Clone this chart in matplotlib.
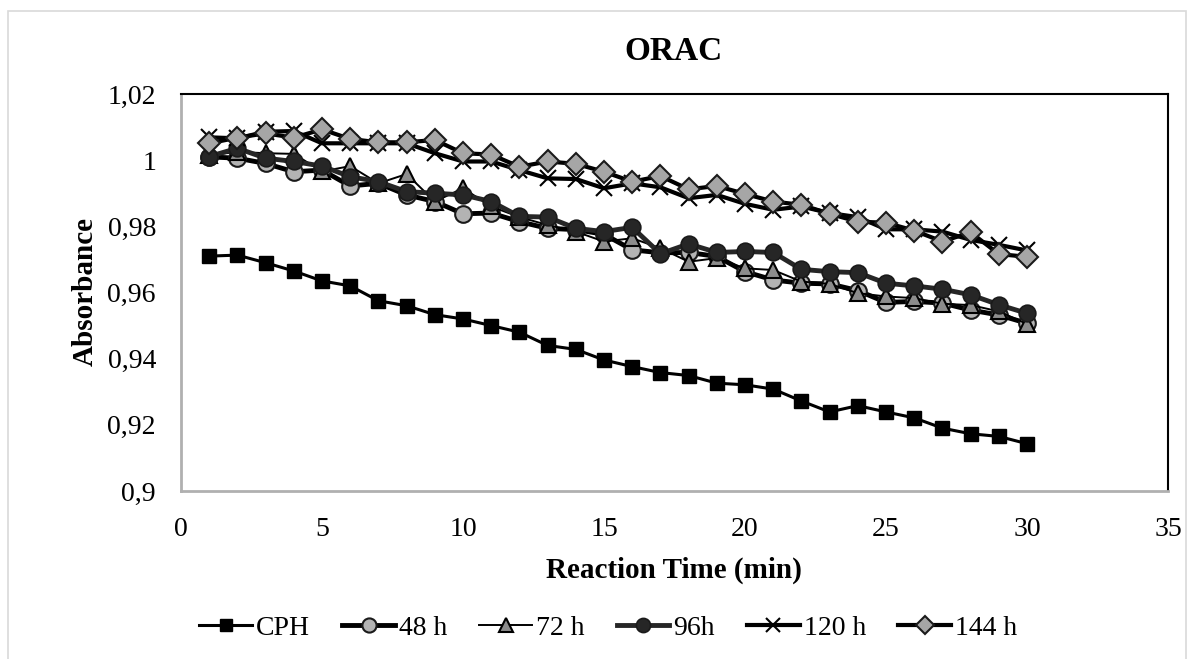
import matplotlib
matplotlib.use("Agg")
import matplotlib.pyplot as plt
from matplotlib.ticker import FuncFormatter, MultipleLocator
from matplotlib.patches import Rectangle

plt.rcParams["font.family"] = ["Liberation Serif", "DejaVu Serif"]

# reaction time (min)
time_min = list(range(1, 31))

# absorbance per sample
cph = [0.9710, 0.9713, 0.9690, 0.9665, 0.9635, 0.9620, 0.9575, 0.9560, 0.9533, 0.9520,
       0.9500, 0.9480, 0.9440, 0.9428, 0.9396, 0.9376, 0.9358, 0.9349, 0.9326, 0.9321,
       0.9308, 0.9272, 0.9239, 0.9258, 0.9239, 0.9221, 0.9190, 0.9173, 0.9165, 0.9143]
h48 = [1.0010, 1.0006, 0.9990, 0.9965, 0.9970, 0.9922, 0.9930, 0.9895, 0.9875, 0.9838,
       0.9840, 0.9814, 0.9794, 0.9790, 0.9776, 0.9729, 0.9720, 0.9721, 0.9709, 0.9663,
       0.9638, 0.9628, 0.9626, 0.9606, 0.9570, 0.9573, 0.9568, 0.9547, 0.9532, 0.9507]
h72 = [1.0015, 1.0025, 1.0021, 1.0019, 0.9966, 0.9982, 0.9930, 0.9958, 0.9875, 0.9915,
       0.9860, 0.9828, 0.9804, 0.9784, 0.9754, 0.9764, 0.9734, 0.9693, 0.9704, 0.9673,
       0.9668, 0.9633, 0.9626, 0.9598, 0.9588, 0.9583, 0.9566, 0.9562, 0.9543, 0.9505]
h96 = [1.0011, 1.0036, 1.0006, 0.9996, 0.9982, 0.9950, 0.9935, 0.9905, 0.9900, 0.9895,
       0.9875, 0.9830, 0.9828, 0.9794, 0.9784, 0.9797, 0.9717, 0.9747, 0.9721, 0.9724,
       0.9721, 0.9670, 0.9663, 0.9660, 0.9628, 0.9620, 0.9610, 0.9593, 0.9563, 0.9537]
h120 = [1.0069, 1.0066, 1.0086, 1.0088, 1.0051, 1.0051, 1.0051, 1.0051, 1.0021, 0.9996,
        0.9996, 0.9970, 0.9945, 0.9943, 0.9915, 0.9930, 0.9918, 0.9885, 0.9895, 0.9868,
        0.9850, 0.9860, 0.9840, 0.9828, 0.9791, 0.9791, 0.9784, 0.9759, 0.9744, 0.9727]
h144 = [1.0051, 1.0068, 1.0081, 1.0068, 1.0093, 1.0064, 1.0054, 1.0054, 1.0061, 1.0021,
        1.0017, 0.9980, 0.9996, 0.9989, 0.9965, 0.9935, 0.9952, 0.9912, 0.9922, 0.9898,
        0.9875, 0.9865, 0.9838, 0.9814, 0.9811, 0.9787, 0.9754, 0.9782, 0.9716, 0.9708]

labels = ["CPH", "48 h", "72 h", "96h", "120 h", "144 h"]

fig = plt.figure(figsize=(11.88, 6.59), dpi=100)
ax = fig.add_axes([181 / 1188, 1 - 491 / 659, 987 / 1188, 397 / 659])

# outer chart border
fig.patches.append(Rectangle((8 / 1188, -0.02), 1178 / 1188, 1 - 11 / 659 + 0.02,
                             transform=fig.transFigure, fill=False,
                             edgecolor="#d9d9d9", linewidth=1.2))

ax.plot(time_min, cph, color="black", lw=2.2, marker="s", ms=10.5,
        mfc="black", mec="black", label=labels[0])
ax.plot(time_min, h48, color="black", lw=3.5, marker="o", ms=12,
        mfc="#b3b3b3", mec="#1a1a1a", mew=1.5, label=labels[1])
ax.plot(time_min, h72, color="black", lw=1.4, marker="^", ms=12,
        mfc="#8c8c8c", mec="black", mew=1.5, label=labels[2])
ax.plot(time_min, h96, color="#262626", lw=3.5, marker="o", ms=12,
        mfc="#262626", mec="#1a1a1a", mew=1.2, label=labels[3])
ax.plot(time_min, h120, color="black", lw=3, marker="x", ms=12,
        mec="black", mew=1.5, label=labels[4])
ax.plot(time_min, h144, color="black", lw=3, marker="D", ms=11,
        mfc="#a6a6a6", mec="#1a1a1a", mew=1.5, label=labels[5])

ax.set_xlim(0, 35)
ax.set_ylim(0.9, 1.02)
ax.xaxis.set_major_locator(MultipleLocator(5))
ax.yaxis.set_major_locator(MultipleLocator(0.02))
ax.yaxis.set_major_formatter(FuncFormatter(lambda v, p: f"{round(v, 3):g}".replace(".", ",")))
ax.tick_params(length=0, labelsize=20)
ax.tick_params(axis="x", pad=19)
ax.tick_params(axis="y", pad=18)

for s in ["top", "right"]:
    ax.spines[s].set_color("black")
    ax.spines[s].set_linewidth(1.5)
for s in ["left", "bottom"]:
    ax.spines[s].set_color("#b0b0b0")
    ax.spines[s].set_linewidth(2)

fig.text(674 / 1188, 1 - 52 / 659, "ORAC", ha="center", va="center",
         fontsize=24, fontweight="bold")
fig.text(674 / 1188, 1 - 570 / 659, "Reaction Time (min)", ha="center", va="center",
         fontsize=21, fontweight="bold")
fig.text(85 / 1188, 1 - 292 / 659, "Absorbance", ha="center", va="center",
         rotation=90, fontsize=21, fontweight="bold")

fig.legend(loc="center", bbox_to_anchor=(0.512, 1 - 628 / 659), ncol=6,
           frameon=False, fontsize=20, handlelength=1.9, handletextpad=0.15,
           columnspacing=1.15, markerscale=0.85)

fig.savefig("out.png", dpi=100)
